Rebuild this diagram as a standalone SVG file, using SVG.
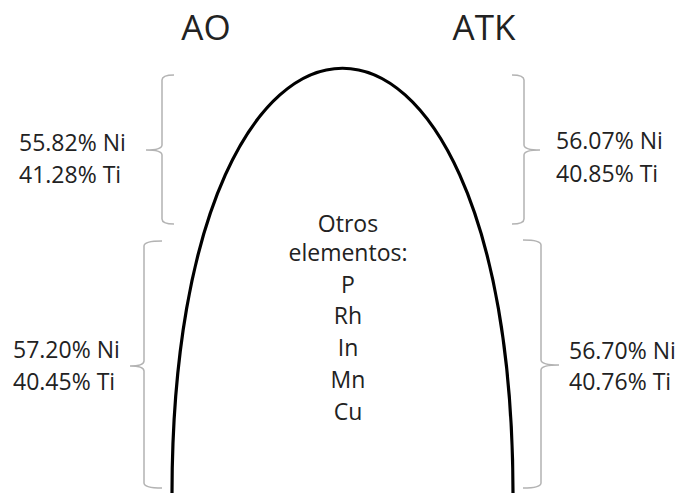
<svg xmlns="http://www.w3.org/2000/svg" width="678" height="493" viewBox="0 0 678 493">
<style>
.t{font-family:"Open Sans","Liberation Sans",sans-serif;fill:#222;}
.lbl{font-size:23px;}
.title{font-size:35px;}
.brace{fill:none;stroke:#b3b3b3;stroke-width:1.5;}
.arch{fill:none;stroke:#000;stroke-width:3.2;}
</style>
<rect width="678" height="493" fill="#fff"/>
<g id="titles">
<text class="t title" x="206" y="40" text-anchor="middle">AO</text>
<text class="t title" x="484" y="40" text-anchor="middle">ATK</text>
</g>
<g id="arch">
<path class="arch" d="M172,495 C172,-74 513,-74 513,495"/>
</g>
<g id="center-text" class="t lbl" text-anchor="middle">
<text x="348" y="232">Otros</text>
<text x="348" y="261">elementos:</text>
<text x="348" y="293">P</text>
<text x="348" y="324">Rh</text>
<text x="348" y="356">In</text>
<text x="348" y="388">Mn</text>
<text x="348" y="420">Cu</text>
</g>
<g id="connectors">
<path class="brace" d="M174,75 Q162,75 162,80 L162,145 Q162,150 146,150 Q162,150 162,155 L162,219 Q162,224 174,224"/>
<path class="brace" d="M162,241 Q144,241 144,246 L144,361 Q144,366 130,366 Q144,366 144,371 L144,483 Q144,488 162,488"/>
<path class="brace" d="M512,75 Q524,75 524,80 L524,145 Q524,150 540,150 Q524,150 524,155 L524,219 Q524,224 512,224"/>
<path class="brace" d="M523,240 Q541,240 541,245 L541,360 Q541,365 559,365 Q541,365 541,370 L541,483 Q541,488 523,488"/>
</g>
<g id="ao-top" class="t lbl">
<text x="19" y="151">55.82% Ni</text>
<text x="19" y="183">41.28% Ti</text>
</g>
<g id="atk-top" class="t lbl">
<text x="556" y="149">56.07% Ni</text>
<text x="556" y="182">40.85% Ti</text>
</g>
<g id="ao-bottom" class="t lbl">
<text x="13" y="358">57.20% Ni</text>
<text x="13" y="390">40.45% Ti</text>
</g>
<g id="atk-bottom" class="t lbl">
<text x="569" y="359">56.70% Ni</text>
<text x="569" y="390">40.76% Ti</text>
</g>
</svg>
